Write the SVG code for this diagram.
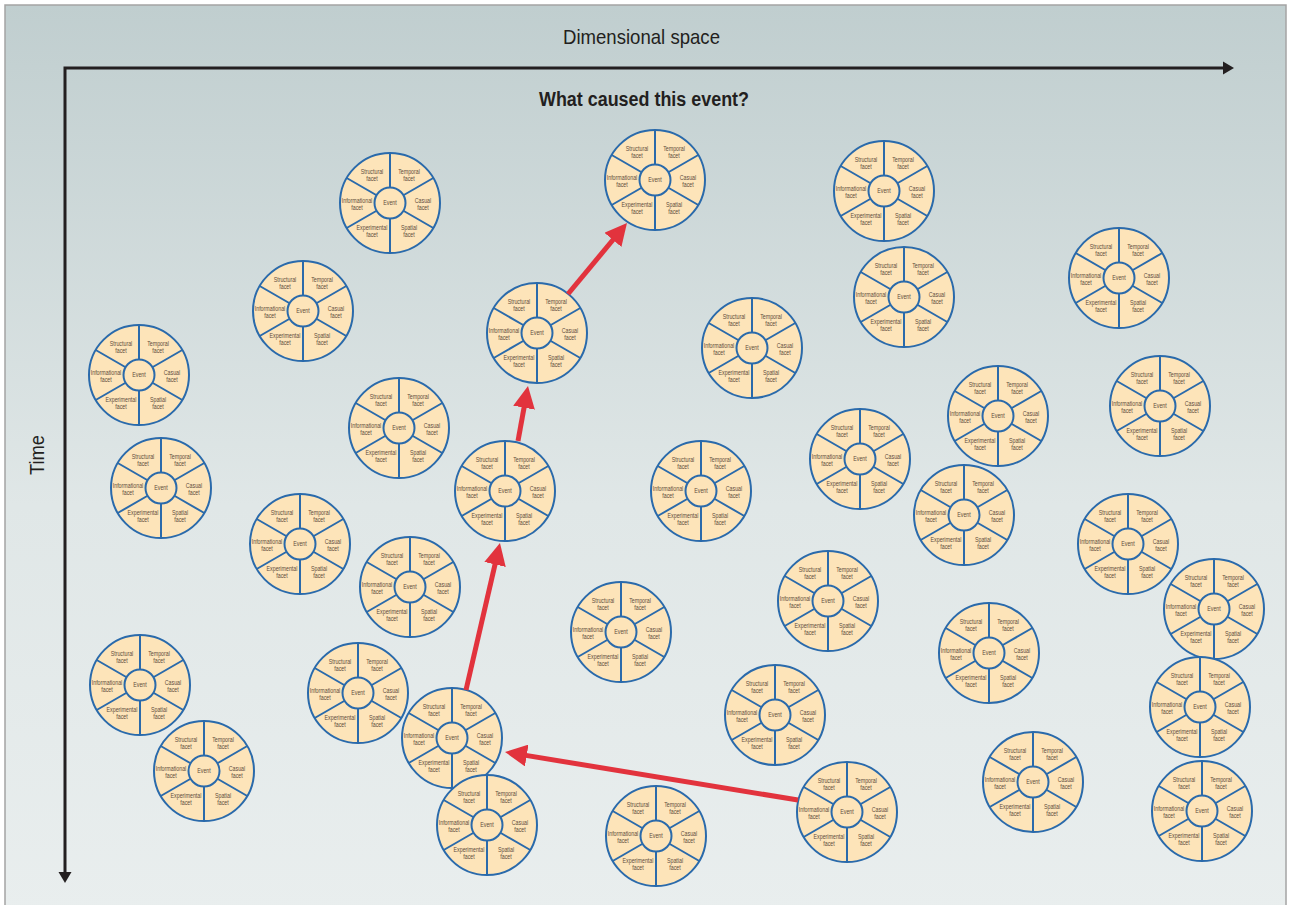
<svg xmlns="http://www.w3.org/2000/svg" xmlns:xlink="http://www.w3.org/1999/xlink" width="1289" height="905" viewBox="0 0 1289 905">
<style>
.ring{fill:#fde4b9;stroke:#2a6aab;stroke-width:2}
.spoke{stroke:#2a6aab;stroke-width:2;fill:none}
.ft{font-family:"Liberation Sans",Arial,sans-serif;font-size:6.8px;fill:#5d4c3c;text-anchor:middle}
.ax{stroke:#231f20;stroke-width:3;fill:none}
.red{stroke:#e2333d;stroke-width:5;fill:none;marker-end:url(#rh)}
.lbl{font-family:"Liberation Sans",Arial,sans-serif;fill:#231f20}
</style>
<defs>
<linearGradient id="bg" x1="0" y1="0" x2="0" y2="1">
<stop offset="0" stop-color="#c0cecf"/>
<stop offset="0.55" stop-color="#e0e7e7"/>
<stop offset="1" stop-color="#e9eeee"/>
</linearGradient>
<marker id="rh" markerUnits="userSpaceOnUse" markerWidth="22" markerHeight="22" refX="7" refY="11" orient="auto">
<path d="M0,0 L22,11 L0,22 Z" fill="#e2333d"/>
</marker>
<g id="wheel">
<circle class="ring" r="50"/>
<path class="spoke" d="M0,-15.5V-50M0,15.5V50M13.4,-7.75L43.3,-25M13.4,7.75L43.3,25M-13.4,-7.75L-43.3,-25M-13.4,7.75L-43.3,25"/>
<circle class="ring" r="15.5"/>
<g transform="scale(0.78,1)" class="ft">
<text x="-23.1" y="-29.5">Structural</text><text x="-23.1" y="-22.5">facet</text>
<text x="24.4" y="-29.5">Temporal</text><text x="24.4" y="-22.5">facet</text>
<text x="42.3" y="0">Casual</text><text x="42.3" y="7">facet</text>
<text x="-42.3" y="0">Informational</text><text x="-42.3" y="7">facet</text>
<text x="-23.1" y="27.5">Experimental</text><text x="-23.1" y="34.5">facet</text>
<text x="24.4" y="27.5">Spatial</text><text x="24.4" y="34.5">facet</text>
<text x="0" y="2.3">Event</text>
</g>
</g>
</defs>
<rect x="0" y="0" width="1289" height="905" fill="#ffffff"/>
<rect x="5" y="5" width="1281" height="910" fill="url(#bg)" stroke="#a4a4a4" stroke-width="1.5"/>
<text class="lbl" x="563" y="44" font-size="21" textLength="157" lengthAdjust="spacingAndGlyphs">Dimensional space</text>
<text class="lbl" x="539" y="106" font-size="20" font-weight="bold" textLength="210" lengthAdjust="spacingAndGlyphs">What caused this event?</text>
<text class="lbl" transform="translate(44,475) rotate(-90)" font-size="21" textLength="40" lengthAdjust="spacingAndGlyphs">Time</text>
<g id="axes">
<path class="ax" d="M65,873V68H1224"/>
<path d="M1223,61.5L1234,68L1223,74.5Z" fill="#231f20"/>
<path d="M58.5,872L65,883L71.5,872Z" fill="#231f20"/>
</g>
<g id="n1" transform="translate(390,203)"><use xlink:href="#wheel"/></g>
<g id="n2" transform="translate(655,180)"><use xlink:href="#wheel"/></g>
<g id="n3" transform="translate(884,191)"><use xlink:href="#wheel"/></g>
<g id="n4" transform="translate(1119,278)"><use xlink:href="#wheel"/></g>
<g id="n5" transform="translate(303,311)"><use xlink:href="#wheel"/></g>
<g id="n6" transform="translate(904,297)"><use xlink:href="#wheel"/></g>
<g id="n7" transform="translate(537,333)"><use xlink:href="#wheel"/></g>
<g id="n8" transform="translate(752,348)"><use xlink:href="#wheel"/></g>
<g id="n9" transform="translate(139,375)"><use xlink:href="#wheel"/></g>
<g id="n10" transform="translate(1160,406)"><use xlink:href="#wheel"/></g>
<g id="n11" transform="translate(998,416)"><use xlink:href="#wheel"/></g>
<g id="n12" transform="translate(399,428)"><use xlink:href="#wheel"/></g>
<g id="n13" transform="translate(860,459)"><use xlink:href="#wheel"/></g>
<g id="n14" transform="translate(161,488)"><use xlink:href="#wheel"/></g>
<g id="n15" transform="translate(505,491)"><use xlink:href="#wheel"/></g>
<g id="n16" transform="translate(701,491)"><use xlink:href="#wheel"/></g>
<g id="n17" transform="translate(964,515)"><use xlink:href="#wheel"/></g>
<g id="n18" transform="translate(300,544)"><use xlink:href="#wheel"/></g>
<g id="n19" transform="translate(1128,544)"><use xlink:href="#wheel"/></g>
<g id="n20" transform="translate(410,587)"><use xlink:href="#wheel"/></g>
<g id="n21" transform="translate(828,601)"><use xlink:href="#wheel"/></g>
<g id="n22" transform="translate(1214,609)"><use xlink:href="#wheel"/></g>
<g id="n23" transform="translate(621,632)"><use xlink:href="#wheel"/></g>
<g id="n24" transform="translate(989,653)"><use xlink:href="#wheel"/></g>
<g id="n25" transform="translate(140,685)"><use xlink:href="#wheel"/></g>
<g id="n26" transform="translate(358,693)"><use xlink:href="#wheel"/></g>
<g id="n27" transform="translate(775,715)"><use xlink:href="#wheel"/></g>
<g id="n28" transform="translate(1200,707)"><use xlink:href="#wheel"/></g>
<g id="n29" transform="translate(452,738)"><use xlink:href="#wheel"/></g>
<g id="n30" transform="translate(204,771)"><use xlink:href="#wheel"/></g>
<g id="n31" transform="translate(1033,782)"><use xlink:href="#wheel"/></g>
<g id="n32" transform="translate(487,825)"><use xlink:href="#wheel"/></g>
<g id="n33" transform="translate(656,836)"><use xlink:href="#wheel"/></g>
<g id="n34" transform="translate(847,812)"><use xlink:href="#wheel"/></g>
<g id="n35" transform="translate(1202,811)"><use xlink:href="#wheel"/></g>
<g id="connectors">
<path class="red" d="M798,800L519.8,754.4"/>
<path class="red" d="M466,690L496.6,557.6"/>
<path class="red" d="M518,441L525.3,400.8"/>
<path class="red" d="M568,294L617.4,234.5"/>
</g>
</svg>
